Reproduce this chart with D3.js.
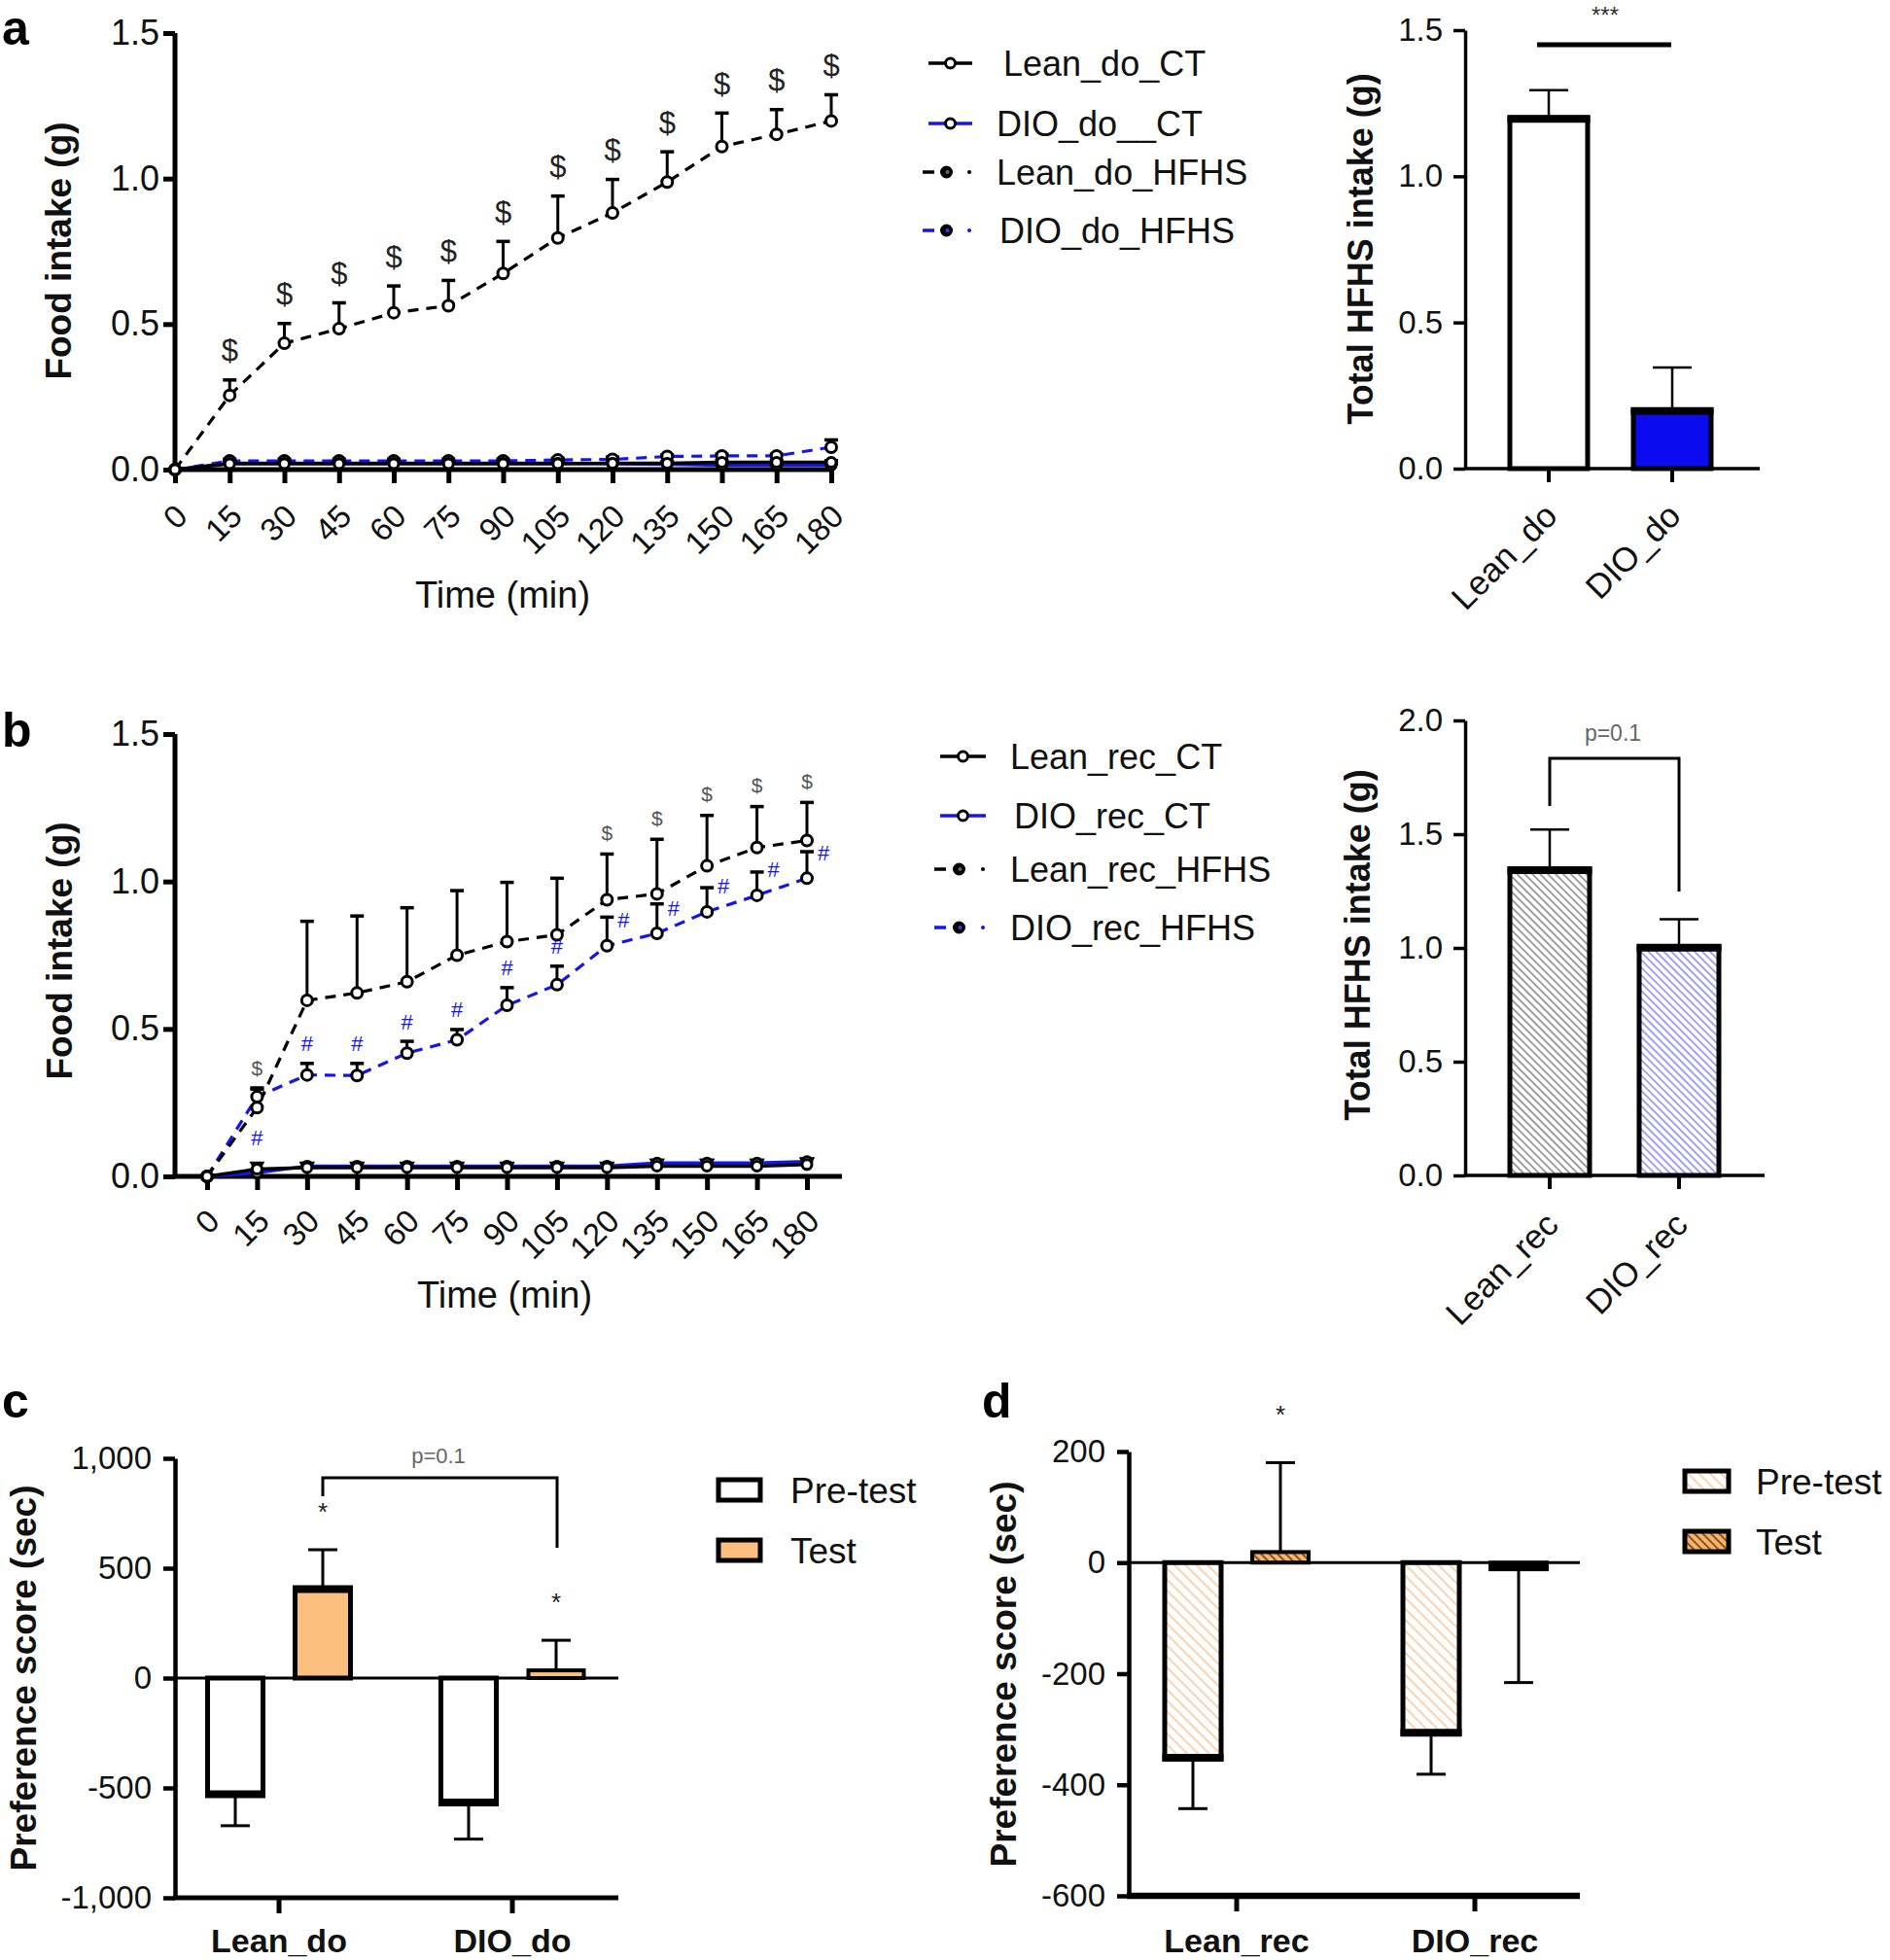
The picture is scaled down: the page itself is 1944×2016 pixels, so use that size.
<!DOCTYPE html>
<html><head><meta charset="utf-8">
<script src="https://cdn.jsdelivr.net/npm/d3@7"></script>
<style>body{margin:0;background:#fff}svg{display:block}</style>
</head><body>
<svg id="fig" width="1944" height="2016"></svg>
<script>
// ---------------- DATA ----------------
const timePoints = [0,15,30,45,60,75,90,105,120,135,150,165,180];
const timeTickLabels = ["0","15","30","45","60","75","90","105","120","135","150","165","180"];
const foodTicks = [0,0.5,1.0,1.5];
const foodTickLabels = ["0.0","0.5","1.0","1.5"];
const totalTicksB = [0,0.5,1.0,1.5,2.0];
const totalTickLabelsB = ["0.0","0.5","1.0","1.5","2.0"];
const prefTicksC = [-1000,-500,0,500,1000];
const prefTickLabelsC = ["-1,000","-500","0","500","1,000"];
const prefTicksD = [-600,-400,-200,0,200];
const prefTickLabelsD = ["-600","-400","-200","0","200"];

// panel a (time course)
const aLeanCT      = [0,0.020,0.020,0.020,0.020,0.020,0.020,0.020,0.022,0.022,0.025,0.025,0.025];
const aLeanCTSem   = [0,0.006,0.006,0.006,0.006,0.006,0.006,0.006,0.006,0.006,0.006,0.006,0.006];
const aDioCT       = [0,0.022,0.022,0.022,0.022,0.022,0.022,0.022,0.020,0.018,0.015,0.015,0.015];
const aDioCTSem    = [0,0.005,0.005,0.005,0.005,0.005,0.005,0.005,0.005,0.005,0.005,0.005,0.005];
const aLeanHFHS    = [0,0.255,0.434,0.484,0.539,0.563,0.674,0.796,0.882,0.988,1.110,1.152,1.198];
const aLeanHFHSSem = [0,0.053,0.068,0.089,0.092,0.087,0.110,0.144,0.115,0.104,0.115,0.085,0.090];
const aDioHFHS     = [0,0.030,0.030,0.030,0.030,0.030,0.030,0.033,0.035,0.045,0.047,0.047,0.077];
const aDioHFHSSem  = [0,0.006,0.006,0.006,0.006,0.006,0.006,0.006,0.008,0.006,0.006,0.006,0.025];
const aDollar      = [0,1,1,1,1,1,1,1,1,1,1,1,1];

// panel a (totals)
const aTotalGroups = ["Lean_do","DIO_do"];
const aTotalMean   = [1.20, 0.20];
const aTotalSem    = [0.095, 0.146];

// panel b (time course)
const bLeanCT      = [0,0.025,0.030,0.030,0.030,0.030,0.030,0.030,0.030,0.035,0.035,0.035,0.040];
const bLeanCTSem   = [0,0.020,0.015,0.015,0.015,0.015,0.015,0.015,0.015,0.020,0.020,0.020,0.018];
const bDioCT       = [0,0.012,0.035,0.035,0.035,0.035,0.035,0.035,0.035,0.045,0.045,0.045,0.050];
const bDioCTSem    = [0,0.010,0.008,0.008,0.008,0.008,0.008,0.008,0.008,0.010,0.010,0.010,0.010];
const bLeanHFHS    = [0,0.233,0.597,0.622,0.660,0.750,0.796,0.819,0.938,0.958,1.053,1.115,1.139];
const bLeanHFHSSem = [0,0.063,0.268,0.261,0.251,0.219,0.201,0.192,0.155,0.185,0.171,0.139,0.129];
const bDioHFHS     = [0,0.270,0.344,0.342,0.418,0.463,0.580,0.650,0.782,0.824,0.897,0.953,1.011];
const bDioHFHSSem  = [0,0.030,0.039,0.041,0.040,0.035,0.060,0.063,0.097,0.100,0.082,0.079,0.090];
const bDollar      = [0,1,0,0,0,0,0,0,1,1,1,1,1];
const bHash        = [0,1,1,1,1,1,1,1,1,1,1,1,1];

// panel b (totals)
const bTotalGroups = ["Lean_rec","DIO_rec"];
const bTotalMean   = [1.346, 1.005];
const bTotalSem    = [0.174, 0.121];

// panel c
const cGroups  = ["Lean_do","DIO_do"];
const cPre     = [-533, -571];
const cPreSem  = [139, 162];
const cTest    = [409, 35];
const cTestSem = [175, 137];
const cStar    = [1, 1];

// panel d
const dGroups  = ["Lean_rec","DIO_rec"];
const dPre     = [-353, -308];
const dPreSem  = [90, 73];
const dTest    = [19, -12];
const dTestSem = [161, 204];
const dStar    = [1, 0];

// ---------------- DRAWING ----------------
const FONT = '"Liberation Sans", Arial, "DejaVu Sans", sans-serif';
const BLUE = "#1414f0";
const BARBLUE = "#0b0bef";
const ORANGE = "#fcbf80";
const svg = d3.select("#fig").attr("font-family", FONT);
svg.append("rect").attr("width",1944).attr("height",2016).attr("fill","#fff");
const defs = svg.append("defs");

function hatch(id, color, spacing, width, bg) {
  const p = defs.append("pattern").attr("id", id).attr("patternUnits","userSpaceOnUse")
    .attr("width", spacing).attr("height", spacing).attr("patternTransform","rotate(-45)");
  p.append("rect").attr("width", spacing).attr("height", spacing).attr("fill", bg || "#fff");
  p.append("line").attr("x1", spacing/2).attr("x2", spacing/2).attr("y1", 0).attr("y2", spacing)
    .attr("stroke", color).attr("stroke-width", width);
}
hatch("hGrey", "#8a8a8a", 5.6, 1.6);
hatch("hBlue", "#8c8cff", 5.6, 1.6);
hatch("hOrangeLight", "#fcc79a", 8, 1.6);
hatch("hOrangeDark", "#7a4a1a", 6, 1.8, "#f8b36c");

function styleAxis(g, sw, fs) {
  g.attr("font-family", FONT).attr("font-size", fs);
  g.selectAll(".domain").attr("stroke", "#000").attr("stroke-width", sw);
  g.selectAll(".tick line").attr("stroke", "#000").attr("stroke-width", sw);
  g.selectAll(".tick text").attr("fill", "#111");
}

function panelLetter(t, x, y) {
  svg.append("text").attr("x", x).attr("y", y).attr("font-size", 50).attr("font-weight", "bold").text(t);
}

function yTitle(t, x, y, fs) {
  svg.append("text").attr("transform", `translate(${x},${y}) rotate(-90)`)
    .attr("text-anchor", "middle").attr("dominant-baseline", "central")
    .attr("font-size", fs).attr("font-weight", "bold").attr("fill", "#111").text(t);
}

// ---- time-course panel ----
function linePanel(p) {
  const g = svg.append("g");
  const x = d3.scaleLinear().domain([0,180]).range(p.xRange);
  const y = d3.scaleLinear().domain([0,1.5]).range(p.yRange);

  const ya = g.append("g").attr("transform", `translate(${p.axisX},0)`)
    .call(d3.axisLeft(y).tickValues(foodTicks).tickFormat((d,i)=>foodTickLabels[i]).tickSize(12).tickSizeOuter(0).tickPadding(4));
  styleAxis(ya, 5, 36);
  ya.select(".domain").attr("d", `M0,${y(0)+2}V${y(1.5)}`);

  const xa = g.append("g").attr("transform", `translate(0,${y(0)})`)
    .call(d3.axisBottom(x).tickValues(timePoints).tickFormat((d,i)=>timeTickLabels[i]).tickSize(14).tickSizeOuter(0));
  styleAxis(xa, 5, 33);
  xa.select(".domain").remove();
  xa.selectAll(".tick text").attr("y", 0).attr("dy", null)
    .attr("text-anchor", "end").attr("dominant-baseline", "central")
    .attr("transform", `translate(6,${p.tickLabelDy}) rotate(-45)`);
  g.append("line").attr("x1", p.axisX).attr("x2", p.xAxisEnd).attr("y1", y(0)).attr("y2", y(0))
    .attr("stroke", "#000").attr("stroke-width", 5);

  const line = d3.line().x(d=>x(d.t)).y(d=>y(d.v));
  const prepared = p.series.map(s => ({...s, pts: timePoints.map((t,i)=>({t, v:s.values[i], e:s.sem[i]}))}));
  prepared.forEach(s => {
    g.append("path").datum(s.pts).attr("d", line).attr("fill","none")
      .attr("stroke", s.color).attr("stroke-width", s.dashed ? 3.2 : 3.5)
      .attr("stroke-dasharray", s.dashed ? "11,8" : null);
  });
  prepared.forEach(s => {
    s.pts.filter(d=>d.e>0).forEach(d => {
      const cx = x(d.t), y0 = y(d.v), y1 = y(d.v + d.e);
      g.append("line").attr("x1",cx).attr("x2",cx).attr("y1",y0).attr("y2",y1).attr("stroke","#000").attr("stroke-width",3);
      if (s.triCap) {
        g.append("path").attr("d", d3.symbol(d3.symbolTriangle, 110)())
          .attr("transform", `translate(${cx},${y1+3}) rotate(180)`).attr("fill","#000");
      } else {
        g.append("line").attr("x1",cx-7).attr("x2",cx+7).attr("y1",y1).attr("y2",y1).attr("stroke","#000").attr("stroke-width",3.5);
      }
    });
  });
  prepared.forEach(s => {
    g.selectAll(null).data(s.pts).join("circle")
      .attr("cx", d=>x(d.t)).attr("cy", d=>y(d.v)).attr("r", s.r || 5.5)
      .attr("fill", "#fff").attr("stroke", "#000").attr("stroke-width", 3);
  });
  p.annot(g, x, y);

  svg.append("text").attr("x", p.titleX).attr("y", p.titleY).attr("text-anchor","middle")
    .attr("font-size", 38).attr("fill","#111").text("Time (min)");
}

// ---- legend for line panels ----
function lineLegend(items, x0, x1, tx, ys, fs) {
  const g = svg.append("g");
  items.forEach((it, i) => {
    const yc = ys[i];
    if (!it.dashed) {
      g.append("line").attr("x1", x0).attr("x2", x1).attr("y1", yc).attr("y2", yc).attr("stroke", it.color).attr("stroke-width", 3.5);
      g.append("circle").attr("cx", (x0+x1)/2).attr("cy", yc).attr("r", 5).attr("fill","#fff").attr("stroke","#000").attr("stroke-width",3);
    } else {
      g.append("line").attr("x1", x0-6).attr("x2", x0+6).attr("y1", yc).attr("y2", yc).attr("stroke", it.color).attr("stroke-width", 3.5);
      g.append("circle").attr("cx", (x0+x1)/2-4).attr("cy", yc).attr("r", 5.5).attr("fill","#000").attr("stroke","#000").attr("stroke-width",2);
      g.append("circle").attr("cx", (x0+x1)/2-3).attr("cy", yc).attr("r", 2).attr("fill", it.color === "#000" ? "#666" : "#3a3aff");
      g.append("circle").attr("cx", x1-3).attr("cy", yc).attr("r", 2).attr("fill", it.color);
    }
    g.append("text").attr("x", tx[i]).attr("y", yc).attr("dominant-baseline","central")
      .attr("font-size", fs).attr("fill","#111").text(it.label);
  });
}

// ---- totals bar panel (a/b right) ----
function totalPanel(p) {
  const g = svg.append("g");
  const x = d3.scalePoint().domain(p.groups).range(p.xRange);
  const y = d3.scaleLinear().domain(p.yDomain).range(p.yRange);
  const ya = g.append("g").attr("transform", `translate(${p.axisX},0)`)
    .call(d3.axisLeft(y).tickValues(p.ticks).tickFormat((d,i)=>p.tickLabels[i]).tickSize(12).tickSizeOuter(0).tickPadding(11));
  styleAxis(ya, 3.5, 33);
  const bw = p.barWidth;
  p.groups.forEach((gname, i) => {
    const cx = x(gname), v = p.mean[i], e = p.sem[i];
    g.append("line").attr("x1",cx).attr("x2",cx).attr("y1",y(v)).attr("y2",y(v+e)).attr("stroke","#000").attr("stroke-width",2.5);
    g.append("line").attr("x1",cx-20).attr("x2",cx+20).attr("y1",y(v+e)).attr("y2",y(v+e)).attr("stroke","#000").attr("stroke-width",2.5);
    g.append("rect").attr("x", cx-bw/2).attr("y", y(v)).attr("width", bw).attr("height", y(0)-y(v))
      .attr("fill", p.fills[i]).attr("stroke","#000").attr("stroke-width",5);
    g.append("line").attr("x1",cx-bw/2-2.5).attr("x2",cx+bw/2+2.5).attr("y1",y(v)+1).attr("y2",y(v)+1).attr("stroke","#000").attr("stroke-width",8);
  });
  g.append("line").attr("x1", p.axisX).attr("x2", p.xAxisEnd).attr("y1", y(0)).attr("y2", y(0)).attr("stroke","#000").attr("stroke-width",3.5);
  p.groups.forEach((gname) => {
    const cx = x(gname);
    g.append("line").attr("x1",cx).attr("x2",cx).attr("y1",y(0)).attr("y2",y(0)+14).attr("stroke","#000").attr("stroke-width",4);
    g.append("text").attr("transform", `translate(${cx+2},${y(0)+p.labelDy}) rotate(-45)`)
      .attr("text-anchor","end").attr("dominant-baseline","central").attr("font-size",35).attr("fill","#111").text(gname);
  });
  p.annot(g, x, y);
}

// ---- preference panel (c/d) ----
function prefPanel(p) {
  const g = svg.append("g");
  const x = d3.scalePoint().domain(p.groups).range(p.xRange);
  const y = d3.scaleLinear().domain(p.yDomain).range(p.yRange);
  const ya = g.append("g").attr("transform", `translate(${p.axisX},0)`)
    .call(d3.axisLeft(y).tickValues(p.ticks).tickFormat((d,i)=>p.tickLabels[i]).tickSize(12).tickSizeOuter(0).tickPadding(12));
  styleAxis(ya, 4.5, 33);
  const bw = p.barWidth;
  const drawBar = (cx, v, e, fill) => {
    const top = Math.min(y(v), y(0)), h = Math.abs(y(v)-y(0));
    const end = v >= 0 ? y(v+e) : y(v-e);
    g.append("line").attr("x1",cx).attr("x2",cx).attr("y1",y(v)).attr("y2",end).attr("stroke","#000").attr("stroke-width",3);
    g.append("line").attr("x1",cx-15).attr("x2",cx+15).attr("y1",end).attr("y2",end).attr("stroke","#000").attr("stroke-width",3);
    const small = h < 20, tiny = h < 7.5;
    g.append("rect").attr("x", cx-bw/2).attr("y", top).attr("width", bw).attr("height", h)
      .attr("fill", tiny ? "#000" : fill).attr("stroke","#000").attr("stroke-width", small ? 4 : 5);
    if (!small) {
      const ye = y(v) + (v >= 0 ? 1 : -1);
      g.append("line").attr("x1",cx-bw/2-2.5).attr("x2",cx+bw/2+2.5).attr("y1",ye).attr("y2",ye).attr("stroke","#000").attr("stroke-width",8);
    }
  };
  p.groups.forEach((gname, i) => {
    const c = x(gname);
    drawBar(c - p.offset, p.pre[i], p.preSem[i], p.preFill);
    drawBar(c + p.offset, p.test[i], p.testSem[i], p.testFill);
    if (p.star[i]) {
      const v = p.test[i], e = p.testSem[i];
      g.append("text").attr("x", c + p.offset).attr("y", y(v+e) - p.starGap).attr("text-anchor","middle")
        .attr("font-size", 26).attr("fill","#222").text("*");
    }
  });
  g.append("line").attr("x1", p.axisX).attr("x2", p.xAxisEnd).attr("y1", y(0)).attr("y2", y(0)).attr("stroke","#000").attr("stroke-width",3);
  g.append("line").attr("x1", p.axisX-2).attr("x2", p.xAxisEnd).attr("y1", y(p.yDomain[0])).attr("y2", y(p.yDomain[0])).attr("stroke","#000").attr("stroke-width",p.bottomWidth);
  p.groups.forEach((gname) => {
    const cx = x(gname);
    g.append("line").attr("x1",cx).attr("x2",cx).attr("y1",y(p.yDomain[0])).attr("y2",y(p.yDomain[0])+16).attr("stroke","#000").attr("stroke-width",5);
    g.append("text").attr("x", cx).attr("y", p.labelY).attr("text-anchor","middle")
      .attr("font-size",34).attr("font-weight","bold").attr("fill","#111").text(gname);
  });
  p.legend.forEach((it, i) => {
    g.append("rect").attr("x", p.legX).attr("y", p.legY[i]).attr("width", p.legW).attr("height", 21)
      .attr("fill", it.fill).attr("stroke","#000").attr("stroke-width",5);
    g.append("text").attr("x", p.legTX).attr("y", p.legY[i]+11).attr("dominant-baseline","central")
      .attr("font-size",37).attr("fill","#111").text(it.label);
  });
  if (p.annot) p.annot(g, x, y);
}

// ======== Panel a ========
panelLetter("a", 2, 46);
linePanel({
  xRange:[180,855], yRange:[483,34], axisX:180, xAxisEnd:858, titleX:517, titleY:625, tickLabelDy:42,
  series:[
    {values:aLeanHFHS, sem:aLeanHFHSSem, color:"#000", dashed:true},
    {values:aDioHFHS, sem:aDioHFHSSem, color:BLUE, dashed:true},
    {values:aDioCT, sem:aDioCTSem, color:BLUE, dashed:false, r:5},
    {values:aLeanCT, sem:aLeanCTSem, color:"#000", dashed:false, r:5}
  ],
  annot:(g,x,y)=>{
    timePoints.forEach((t,i)=>{
      if (!aDollar[i]) return;
      g.append("text").attr("x", x(t)).attr("y", y(aLeanHFHS[i]+aLeanHFHSSem[i]) - 30)
        .attr("text-anchor","middle").attr("dominant-baseline","central")
        .attr("font-size", 31).attr("fill","#222").text("$");
    });
  }
});
yTitle("Food intake (g)", 60, 258, 37);
lineLegend([
  {label:"Lean_do_CT", color:"#000", dashed:false},
  {label:"DIO_do__CT", color:BLUE, dashed:false},
  {label:"Lean_do_HFHS", color:"#000", dashed:true},
  {label:"DIO_do_HFHS", color:BLUE, dashed:true}
], 955, 1000, [1032,1025,1025,1028], [65,127,177,237], 36);

totalPanel({
  groups:aTotalGroups, mean:aTotalMean, sem:aTotalSem, xRange:[1593,1720],
  yDomain:[0,1.5], yRange:[482,31], axisX:1507, xAxisEnd:1810, barWidth:80,
  ticks:foodTicks, tickLabels:foodTickLabels, fills:["#fff", BARBLUE], labelDy:42,
  annot:(g,x,y)=>{
    g.append("line").attr("x1",1581).attr("x2",1719).attr("y1",46).attr("y2",46).attr("stroke","#000").attr("stroke-width",5);
    g.append("text").attr("x",1651).attr("y",24).attr("text-anchor","middle").attr("font-size",24).attr("fill","#333").text("***");
  }
});
yTitle("Total HFHS intake (g)", 1399, 256, 36);

// ======== Panel b ========
panelLetter("b", 2, 768);
linePanel({
  xRange:[213,830], yRange:[1210,755], axisX:180, xAxisEnd:866, titleX:519, titleY:1345, tickLabelDy:40,
  series:[
    {values:bDioHFHS, sem:bDioHFHSSem, color:BLUE, dashed:true},
    {values:bLeanHFHS, sem:bLeanHFHSSem, color:"#000", dashed:true},
    {values:bDioCT, sem:bDioCTSem, color:BLUE, dashed:false, r:5, triCap:true},
    {values:bLeanCT, sem:bLeanCTSem, color:"#000", dashed:false, r:5, triCap:true}
  ],
  annot:(g,x,y)=>{
    timePoints.forEach((t,i)=>{
      if (bDollar[i]) {
        g.append("text").attr("x", x(t)).attr("y", y(bLeanHFHS[i]+bLeanHFHSSem[i]) - 22)
          .attr("text-anchor","middle").attr("dominant-baseline","central")
          .attr("font-size", 21).attr("fill","#555").text("$");
      }
      if (bHash[i]) {
        let hx = x(t), hy;
        if (i === 1) { hy = y(bDioHFHS[i]) + 42; }
        else if (i <= 7) { hy = y(bDioHFHS[i]+bDioHFHSSem[i]) - 20; }
        else { hx = x(t) + 17; hy = y(bDioHFHS[i]) - 26; }
        g.append("text").attr("x", hx).attr("y", hy).attr("text-anchor","middle").attr("dominant-baseline","central")
          .attr("font-size", 22).attr("fill", BLUE).text("#");
      }
    });
  }
});
yTitle("Food intake (g)", 61, 978, 37);
lineLegend([
  {label:"Lean_rec_CT", color:"#000", dashed:false},
  {label:"DIO_rec_CT", color:BLUE, dashed:false},
  {label:"Lean_rec_HFHS", color:"#000", dashed:true},
  {label:"DIO_rec_HFHS", color:BLUE, dashed:true}
], 967, 1014, [1039,1043,1039,1039], [778,839,894,954], 36);

totalPanel({
  groups:bTotalGroups, mean:bTotalMean, sem:bTotalSem, xRange:[1594,1727],
  yDomain:[0,2], yRange:[1209,741], axisX:1507, xAxisEnd:1815, barWidth:82,
  ticks:totalTicksB, tickLabels:totalTickLabelsB, fills:["url(#hGrey)","url(#hBlue)"], labelDy:44,
  annot:(g,x,y)=>{
    g.append("path").attr("d","M1594,829V780H1727V917").attr("fill","none").attr("stroke","#000").attr("stroke-width",3);
    g.append("text").attr("x",1659).attr("y",762).attr("text-anchor","middle").attr("font-size",23).attr("fill","#666").text("p=0.1");
  }
});
yTitle("Total HFHS intake (g)", 1396, 972, 36);

// ======== Panel c ========
panelLetter("c", 2, 1458);
prefPanel({
  groups:cGroups, pre:cPre, preSem:cPreSem, test:cTest, testSem:cTestSem, star:cStar,
  xRange:[287,527], yDomain:[-1000,1000], yRange:[1952,1500], axisX:180, xAxisEnd:636,
  barWidth:57, offset:45, ticks:prefTicksC, tickLabels:prefTickLabelsC,
  preFill:"#fff", testFill:ORANGE, starGap:30, bottomWidth:5, labelY:2008,
  legend:[{label:"Pre-test", fill:"#fff"},{label:"Test", fill:ORANGE}],
  legX:739, legY:[1522,1584], legW:43, legTX:813,
  annot:(g,x,y)=>{
    g.append("path").attr("d","M332,1539V1520H573V1592").attr("fill","none").attr("stroke","#000").attr("stroke-width",3);
    g.append("text").attr("x",451).attr("y",1505).attr("text-anchor","middle").attr("font-size",22).attr("fill","#666").text("p=0.1");
  }
});
yTitle("Preference score (sec)", 24, 1726, 37);

// ======== Panel d ========
panelLetter("d", 1010, 1458);
prefPanel({
  groups:dGroups, pre:dPre, preSem:dPreSem, test:dTest, testSem:dTestSem, star:dStar,
  xRange:[1272,1517], yDomain:[-600,200], yRange:[1950,1493], axisX:1161, xAxisEnd:1625,
  barWidth:58, offset:45, ticks:prefTicksD, tickLabels:prefTickLabelsD,
  preFill:"url(#hOrangeLight)", testFill:"url(#hOrangeDark)", starGap:40, bottomWidth:6.5, labelY:2008,
  legend:[{label:"Pre-test", fill:"url(#hOrangeLight)"},{label:"Test", fill:"url(#hOrangeDark)"}],
  legX:1733, legY:[1513,1575], legW:45, legTX:1806
});
yTitle("Preference score (sec)", 1032, 1722, 37);
</script>
</body></html>
